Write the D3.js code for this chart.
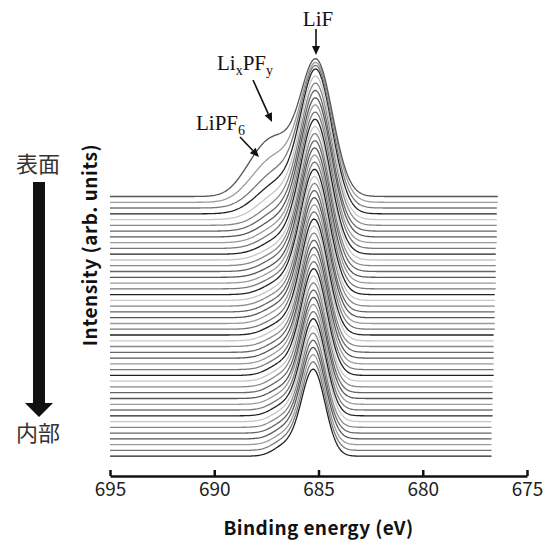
<!DOCTYPE html>
<html><head><meta charset="utf-8">
<script src="https://cdn.jsdelivr.net/npm/d3@7"></script>
<style>body{margin:0;background:#fff}svg{display:block}</style>
</head><body>
<svg id="chart" width="549" height="541"></svg>
<script>
// ---------- data ----------
const xTicks = [695, 690, 685, 680, 675];
const xDomain = [695, 675];
const startEnergy = 695;
// waterfall offset of each spectrum (arb. units), top spectrum (surface) first
const offsets = [273.5, 267.7, 262.0, 256.2, 250.4, 244.7, 238.9, 233.1, 227.3, 221.6,
  215.8, 210.0, 204.3, 198.5, 192.7, 186.9, 181.2, 175.4, 169.6, 163.9,
  158.1, 152.3, 146.5, 140.8, 135.0, 129.2, 123.5, 117.7, 111.9, 106.1,
  100.4, 94.6, 88.8, 83.1, 77.3, 71.5, 65.7, 60.0, 54.2, 48.4,
  42.7, 36.9, 31.1, 25.3, 19.6, 13.8];
// LiF component
const lifHeight = [134, 136.5, 139.5, 142, 141, 139.8, 138.5, 137.2, 136, 134.7,
  133.4, 132.1, 130.8, 129.5, 128.2, 126.9, 125.6, 124.3, 123, 121.7,
  120.4, 119.1, 117.8, 116.5, 115.2, 113.9, 112.6, 111.3, 110, 108.7,
  107.3, 106, 104.7, 103.3, 102, 100.6, 99.3, 97.9, 96.5, 95.1,
  93.7, 92.3, 90.9, 89.5, 88, 86.5];
const lifCenter = [685.10, 685.10, 685.11, 685.11, 685.12, 685.12, 685.13, 685.13, 685.14, 685.14,
  685.15, 685.15, 685.16, 685.16, 685.17, 685.17, 685.17, 685.18, 685.18, 685.18,
  685.19, 685.19, 685.19, 685.20, 685.20, 685.20, 685.21, 685.21, 685.21, 685.22,
  685.22, 685.22, 685.23, 685.23, 685.23, 685.23, 685.24, 685.24, 685.24, 685.24,
  685.25, 685.25, 685.25, 685.25, 685.25, 685.25];
const lifWidth = [0.78, 0.78, 0.77, 0.76, 0.75, 0.75, 0.74, 0.74, 0.73, 0.73,
  0.72, 0.72, 0.71, 0.71, 0.70, 0.70, 0.69, 0.69, 0.68, 0.68,
  0.67, 0.67, 0.66, 0.66, 0.65, 0.65, 0.64, 0.64, 0.63, 0.63,
  0.62, 0.62, 0.61, 0.61, 0.60, 0.60, 0.60, 0.59, 0.59, 0.59,
  0.58, 0.58, 0.58, 0.57, 0.57, 0.57];
// LixPFy shoulder component
const lixpfyHeight = [50, 40, 33, 28, 24, 21, 19, 17, 16, 15,
  14, 13, 13, 13, 12, 12, 12, 12, 12, 12,
  12, 12, 12, 11, 11, 11, 11, 11, 11, 11,
  11, 11, 11, 11, 11, 10, 10, 10, 10, 10,
  10, 10, 10, 10, 10, 10];
const lixpfyCenter = [687.05, 687.03, 687.01, 686.99, 686.97, 686.95, 686.94, 686.93, 686.92, 686.91,
  686.90, 686.90, 686.89, 686.89, 686.88, 686.88, 686.87, 686.87, 686.86, 686.86,
  686.85, 686.85, 686.84, 686.83, 686.82, 686.81, 686.80, 686.79, 686.78, 686.77,
  686.76, 686.75, 686.74, 686.73, 686.72, 686.71, 686.70, 686.69, 686.68, 686.67,
  686.66, 686.65, 686.64, 686.63, 686.62, 686.61];
const lixpfyWidth = [0.85, 0.86, 0.87, 0.88, 0.88, 0.88, 0.87, 0.86, 0.85, 0.84,
  0.83, 0.82, 0.81, 0.80, 0.79, 0.78, 0.77, 0.76, 0.75, 0.75,
  0.74, 0.73, 0.72, 0.71, 0.70, 0.70, 0.69, 0.68, 0.67, 0.66,
  0.65, 0.65, 0.64, 0.63, 0.62, 0.62, 0.61, 0.60, 0.60, 0.59,
  0.58, 0.58, 0.57, 0.57, 0.56, 0.56];
// LiPF6 shoulder component
const lipf6Height = [18, 10, 5, 3, 1, 0, 0, 0, 0, 0,
  0, 0, 0, 0, 0, 0, 0, 0, 0, 0,
  0, 0, 0, 0, 0, 0, 0, 0, 0, 0,
  0, 0, 0, 0, 0, 0, 0, 0, 0, 0,
  0, 0, 0, 0, 0, 0];
const lipf6Center = 688.2;
const lipf6Width = 0.75;
// low-energy end of each measured spectrum (eV)
const endEnergy = [676.40, 676.40, 676.41, 676.42, 676.42, 676.43, 676.44, 676.44, 676.45, 676.46,
  676.46, 676.47, 676.48, 676.48, 676.49, 676.50, 676.50, 676.51, 676.52, 676.52,
  676.53, 676.54, 676.54, 676.55, 676.56, 676.56, 676.57, 676.58, 676.58, 676.59,
  676.60, 676.60, 676.61, 676.62, 676.62, 676.63, 676.64, 676.64, 676.65, 676.66,
  676.66, 676.67, 676.68, 676.68, 676.69, 676.70];
const lineColors = ["#555", "#9a9a9a", "#777", "#222", "#c6c6c6", "#888", "#666"];

// ---------- drawing ----------
const svg = d3.select("#chart");
const x = d3.scaleLinear().domain(xDomain).range([110, 527]);
const y = d3.scaleLinear().domain([0, 430]).range([470, 40]);

const gauss = (e, c, s) => Math.exp(-((e - c) * (e - c)) / (2 * s * s));
const spectra = offsets.map((off, i) => {
  const pts = [];
  for (let e = startEnergy; e >= endEnergy[i] - 1e-9; e -= 0.05) {
    const v = off
      + lifHeight[i] * gauss(e, lifCenter[i], lifWidth[i])
      + lixpfyHeight[i] * gauss(e, lixpfyCenter[i], lixpfyWidth[i])
      + lipf6Height[i] * gauss(e, lipf6Center, lipf6Width);
    pts.push([e, v]);
  }
  return { i, pts };
});

const line = d3.line().x(d => x(d[0])).y(d => y(d[1]));
svg.append("g").selectAll("path").data(spectra.slice().reverse()).join("path")
  .attr("d", d => line(d.pts))
  .attr("fill", "none")
  .attr("stroke", d => lineColors[d.i % lineColors.length])
  .attr("stroke-width", 1.3)
  .attr("stroke-linejoin", "round");

// x axis
const sans = "'Noto Sans CJK JP', 'Noto Sans', sans-serif";
const axis = d3.axisBottom(x).tickValues(xTicks).tickSize(-6).tickSizeOuter(0).tickPadding(6)
  .tickFormat(d3.format("d"));
const gx = svg.append("g").attr("transform", "translate(0,476)").call(axis);
gx.select(".domain").attr("stroke", "#111").attr("stroke-width", 2.5);
gx.selectAll(".tick line").attr("stroke", "#111").attr("stroke-width", 2.5);
gx.selectAll(".tick text").attr("fill", "#222")
  .style("font-family", sans).style("font-size", "19px");

svg.append("text").attr("x", 318.5).attr("y", 535).attr("text-anchor", "middle")
  .style("font-family", sans).style("font-size", "19px").style("letter-spacing", "0.4px")
  .style("font-weight", "bold").attr("fill", "#111").text("Binding energy (eV)");

svg.append("text").attr("transform", "translate(97,245) rotate(-90)").attr("text-anchor", "middle")
  .style("font-family", sans).style("font-size", "19px").style("letter-spacing", "0.5px")
  .style("font-weight", "bold").attr("fill", "#111").text("Intensity (arb. units)");

// depth arrow
svg.append("path").attr("d", "M33,182H45V403H53L39,417L25,403H33Z").attr("fill", "#111");
svg.append("text").attr("x", 38).attr("y", 172).attr("text-anchor", "middle")
  .style("font-family", sans).style("font-size", "22px").attr("fill", "#333").text("表面");
svg.append("text").attr("x", 38).attr("y", 441).attr("text-anchor", "middle")
  .style("font-family", sans).style("font-size", "22px").attr("fill", "#333").text("内部");

// annotations
const serif = "'Liberation Serif', 'Times New Roman', serif";
function arrow(x1, y1, x2, y2) {
  const a = Math.atan2(y2 - y1, x2 - x1), L = 9, W = 4;
  const bx = x2 - L * Math.cos(a), by = y2 - L * Math.sin(a);
  svg.append("line").attr("x1", x1).attr("y1", y1).attr("x2", bx).attr("y2", by)
    .attr("stroke", "#111").attr("stroke-width", 1.6);
  svg.append("path").attr("d", `M${x2},${y2}L${bx + W * Math.sin(a)},${by - W * Math.cos(a)}L${bx - W * Math.sin(a)},${by + W * Math.cos(a)}Z`)
    .attr("fill", "#111");
}
svg.append("text").attr("x", 318).attr("y", 26).attr("text-anchor", "middle")
  .style("font-family", serif).style("font-size", "21px").attr("fill", "#111").text("LiF");
arrow(316, 29, 316, 55);

const t2 = svg.append("text").attr("x", 217).attr("y", 70)
  .style("font-family", serif).style("font-size", "21px").attr("fill", "#111");
t2.append("tspan").text("Li");
t2.append("tspan").attr("dy", 5).style("font-size", "14px").text("x");
t2.append("tspan").attr("dy", -5).text("PF");
t2.append("tspan").attr("dy", 5).style("font-size", "14px").text("y");
arrow(253, 80, 272, 122);

const t3 = svg.append("text").attr("x", 196).attr("y", 130)
  .style("font-family", serif).style("font-size", "21px").attr("fill", "#111");
t3.append("tspan").text("LiPF");
t3.append("tspan").attr("dy", 5).style("font-size", "14px").text("6");
arrow(240, 137, 259, 157);
</script>
</body></html>
